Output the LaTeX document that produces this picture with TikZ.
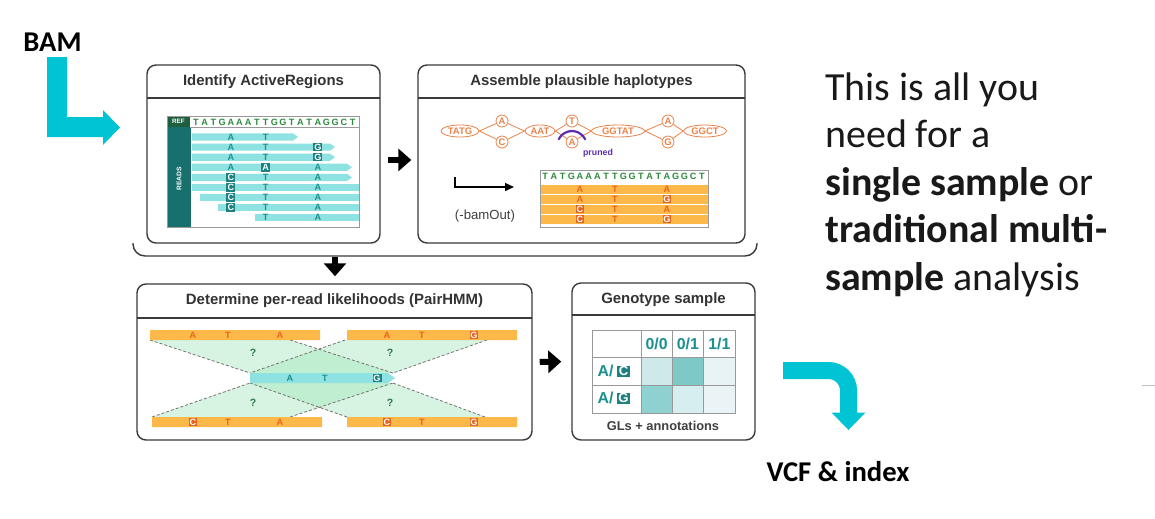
\documentclass[tikz,border=0pt]{standalone}
\usepackage{fontspec}
\setmainfont{Carlito}
\newfontfamily\arialf{Liberation Sans}
\usetikzlibrary{shapes.geometric,arrows.meta}
\newlength\px
\setlength\px{0.02cm}
\definecolor{cyanarr}{HTML}{00C4D4}
\definecolor{panelln}{HTML}{3A3A3A}
\definecolor{readcol}{HTML}{8FE2E2}
\definecolor{tealtxt}{HTML}{1B9090}
\definecolor{tealbox}{HTML}{1F8081}
\definecolor{tealbar}{HTML}{17706E}
\definecolor{refgrn}{HTML}{1F5E3E}
\definecolor{seqgrn}{HTML}{2E8B3E}
\definecolor{orbar}{HTML}{FDB84A}
\definecolor{ortxt}{HTML}{E8641E}
\definecolor{hapln}{HTML}{E8834A}
\definecolor{prune}{HTML}{5B2FB0}
\definecolor{mintc}{HTML}{A6E8BE}
\definecolor{qgrn}{HTML}{2D7A4C}
\definecolor{gta}{HTML}{CFE9EA}
\definecolor{gtb}{HTML}{7EC8C8}
\definecolor{gtc}{HTML}{E8F3F5}
\definecolor{gtd}{HTML}{8FD0D0}
\definecolor{gte}{HTML}{D6EEF0}
\definecolor{gtf}{HTML}{EAF4F6}
\begin{document}
\begin{tikzpicture}
	[x=0.02cm,y=-0.02cm,
	panel/.style={draw=panelln,line width=1.4\px,rounded corners=9\px,inner sep=0pt},
	ttl/.style={font=\arialf\bfseries\fontsize{8.5}{10}\selectfont,text=black!80},
	seq/.style={font=\arialf\bfseries\fontsize{5.2}{6}\selectfont,inner sep=0pt},
	rdl/.style={seq,text=tealtxt},
	rdm/.style={seq,fill=tealbox,text=white,minimum width=9\px,minimum height=8.5\px},
	hpl/.style={seq,text=ortxt},
	hpm/.style={seq,fill=ortxt,text=white,minimum width=8\px,minimum height=8\px},
	hnode/.style={ellipse,draw=hapln,line width=0.8\px,text=hapln,font=\arialf\bfseries\fontsize{5.4}{6}\selectfont,inner sep=0pt,minimum height=12\px},
	hcirc/.style={circle,draw=hapln,line width=0.8\px,text=hapln,font=\arialf\bfseries\fontsize{5.4}{6}\selectfont,inner sep=0pt,minimum size=12\px},
	hedge/.style={draw=hapln,line width=0.8\px},
	blk/.style={line width=6\px,-{Triangle[length=7.4pt,width=12.5pt]}},
	dsh/.style={draw=black!55,line width=0.8\px,dash pattern=on 3\px off 2\px},
	mint/.style={fill=mintc,fill opacity=0.45},
	gtx/.style={font=\arialf\bfseries\fontsize{9}{10}\selectfont,text=tealtxt,inner sep=0pt},
	gbx/.style={gtx,font=\arialf\bfseries\fontsize{7.5}{8}\selectfont,fill=tealbox,text=white,minimum width=13\px,minimum height=11\px},
	bigtxt/.style={font=\fontsize{22.7}{27}\selectfont,inner sep=0pt,text=black!90}]
\useasboundingbox (0,0) rectangle (1155,518);
\fill[white] (0,0) rectangle (1155,518);
\node[font=\bfseries\fontsize{16.3}{19}\selectfont,inner sep=0pt] (bam) at (52.5,42.5) {BAM};
\fill[cyanarr] (47,57) -- (67,57) -- (67,117) -- (103,117) -- (103,110) -- (120,127.5) -- (103,145) -- (103,137) -- (47,137) -- cycle;
\node[panel,minimum width=233\px,minimum height=178\px] (ident) at (263.5,154) {};
\node[panel,minimum width=327\px,minimum height=178\px] (assem) at (581.5,154) {};
\node[panel,minimum width=395\px,minimum height=156\px] (pairhmm) at (334.5,362) {};
\node[panel,minimum width=183\px,minimum height=157\px] (geno) at (663.5,361.5) {};
\draw[panelln,line width=1.4\px] (147,98) -- (380,98) (418,98) -- (745,98) (137,318) -- (532,318) (572,315) -- (755,315);
\node[ttl] (identt) at (263.5,82) {Identify ActiveRegions};
\node[ttl] (assemt) at (581.5,82) {Assemble plausible haplotypes};
\node[ttl] (pairt) at (334.5,301) {Determine per-read likelihoods (PairHMM)};
\node[ttl] (genot) at (663.5,299.5) {Genotype sample};
\draw[panelln,line width=1.4\px,rounded corners=12\px] (133,243) -- (133,256) -- (757,256) -- (757,243);
\draw[blk,shorten <=4pt,shorten >=3.4pt] ([yshift=-3.4pt]ident.east) -- ([yshift=-3.4pt]assem.west);
\coordinate (brc) at (335,257);
\draw[blk,shorten >=4pt] (brc) -- (brc |- pairhmm.north);
\draw[blk,shorten <=4pt,shorten >=5.7pt] (pairhmm.east) -- (geno.west);
\fill[refgrn] (167,116) rectangle (190,127);
\node[font=\arialf\bfseries\fontsize{3.6}{4}\selectfont,text=white,inner sep=0pt] (ref) at (178.5,121.5) {REF};
\fill[tealbar] (167,127) rectangle (191,227);
\node[font=\arialf\bfseries\fontsize{3.8}{4}\selectfont,text=white,inner sep=0pt,rotate=90] (reads) at (179,179) {READS};
\foreach \rw/\xa/\xb/\tp in {1/192/298/1,2/192/335/1,3/192/335/1,4/192/352/1,5/192/352/1,6/192/359/0,7/200/359/0,8/218/359/0,9/255/359/0}{
	\pgfmathsetmacro\yy{137+10.1*(\rw-1)}
	\ifnum\tp=1
		\fill[readcol] (\xa,\yy-3.6) -- (\xb-5,\yy-3.6) -- (\xb,\yy) -- (\xb-5,\yy+3.6) -- (\xa,\yy+3.6) -- cycle;
	\else
		\fill[readcol] (\xa,\yy-3.6) rectangle (\xb,\yy+3.6);
	\fi
}
\draw[black!40,line width=0.7\px] (167,116) rectangle (359,227) (190,127) -- (359,127);
\foreach \ltr [count=\i from 0] in {T,A,T,G,A,A,A,T,T,G,G,T,A,T,A,G,G,C,T}
	\node[seq,text=seqgrn] (rf\i) at ({196+8.7*\i},122) {\ltr};
\foreach \rw/\cl/\ltr/\sty [count=\i] in {1/4/A/rdl,1/8/T/rdl,2/4/A/rdl,2/8/T/rdl,2/14/G/rdm,3/4/A/rdl,3/8/T/rdl,3/14/G/rdm,4/4/A/rdl,4/8/A/rdm,4/14/A/rdl,5/4/C/rdm,5/8/T/rdl,5/14/A/rdl,6/4/C/rdm,6/8/T/rdl,6/14/A/rdl,7/4/C/rdm,7/8/T/rdl,7/14/A/rdl,8/4/C/rdm,8/8/T/rdl,8/14/A/rdl,9/8/T/rdl,9/14/A/rdl}
	\node[\sty] (rl\i) at ({196+8.7*\cl},{137+10.1*(\rw-1)}) {\ltr};
\node[hnode,minimum width=38\px] (tatg) at (460,131) {TATG};
\node[hcirc] (va) at (502,121) {A};
\node[hcirc] (vc) at (502,142) {C};
\node[hnode,minimum width=30\px] (aat) at (540,131) {AAT};
\node[hcirc] (vt) at (572,121) {T};
\node[hcirc] (vab) at (572,142) {A};
\node[hnode,minimum width=53\px] (ggtat) at (618,131) {GGTAT};
\node[hcirc] (vac) at (668,121) {A};
\node[hcirc] (vg) at (668,142) {G};
\node[hnode,minimum width=43\px] (ggct) at (705,131) {GGCT};
\foreach \pa/\pb in {tatg.east/va,tatg.east/vc,va/aat.west,vc/aat.west,aat.east/vt,aat.east/vab,vt/ggtat.west,vab/ggtat.west,ggtat.east/vac,ggtat.east/vg,vac/ggct.west,vg/ggct.west}
	\draw[hedge] (\pa) -- (\pb);
\draw[prune,line width=2.2\px] ([shift={(155:8.5pt)}]572,146) arc[start angle=155,end angle=25,radius=8.5pt];
\node[font=\arialf\bfseries\fontsize{5}{6}\selectfont,text=prune,inner sep=0pt] (prn) at (598,153) {pruned};
\coordinate (hook) at (455,177);
\coordinate (hookend) at (514,187);
\draw[line width=1.6\px,-{Triangle[length=5.1pt,width=4.5pt]}] (hook) |- (hookend);
\node[font=\arialf\fontsize{7.5}{9}\selectfont,text=black!75,inner sep=0pt] (bamout) at (485,216) {(-bamOut)};
\foreach \rw in {0,...,3}
	\fill[orbar] (540.5,{184.5+10*\rw}) rectangle (707.5,{193.5+10*\rw});
\draw[black!40,line width=0.7\px] (540,170) rectangle (708,227);
\foreach \ltr [count=\i from 0] in {T,A,T,G,A,A,A,T,T,G,G,T,A,T,A,G,G,C,T}
	\node[seq,text=seqgrn] (hf\i) at ({545.2+8.7*\i},176) {\ltr};
\foreach \rw/\cl/\ltr/\sty [count=\i] in {1/4/A/hpl,1/8/T/hpl,1/14/A/hpl,2/4/A/hpl,2/8/T/hpl,2/14/G/hpm,3/4/C/hpm,3/8/T/hpl,3/14/A/hpl,4/4/C/hpm,4/8/T/hpl,4/14/G/hpm}
	\node[\sty] (hl\i) at ({545.2+8.7*\cl},{189+10*(\rw-1)}) {\ltr};
\fill[mint] (150,340) -- (290,340) -- (393,373) -- (250,373) -- cycle;
\fill[mint] (345,340) -- (487,340) -- (393,373) -- (250,373) -- cycle;
\fill[mint] (152,417) -- (290,417) -- (393,383) -- (250,383) -- cycle;
\fill[mint] (347,417) -- (485,417) -- (393,383) -- (250,383) -- cycle;
\draw[dsh] (150,340) -- (250,373) (290,340) -- (393,373) (345,340) -- (250,373) (487,340) -- (393,373);
\draw[dsh] (152,417) -- (250,383) (290,417) -- (393,383) (347,417) -- (250,383) (485,417) -- (393,383);
\fill[orbar] (150,330) rectangle (320,340) (347,330) rectangle (517,340) (152,417) rectangle (322,427) (347,417) rectangle (517,427);
\fill[readcol] (250,373) -- (388,373) -- (395,378) -- (388,383) -- (250,383) -- cycle;
\foreach \xo/\yo/\cl/\ltr/\sty [count=\i] in {158.2/335/4/A/hpl,158.2/335/8/T/hpl,158.2/335/14/A/hpl,352.2/335/4/A/hpl,352.2/335/8/T/hpl,352.2/335/14/G/hpm,158.2/422/4/C/hpm,158.2/422/8/T/hpl,158.2/422/14/A/hpl,352.2/422/4/C/hpm,352.2/422/8/T/hpl,352.2/422/14/G/hpm,255.2/378/4/A/rdl,255.2/378/8/T/rdl,255.2/378/14/G/rdm}
	\node[\sty] (pl\i) at ({\xo+8.7*\cl},\yo) {\ltr};
\foreach \qx/\qy [count=\i] in {253/353,390/353,253/403,390/403}
	\node[font=\arialf\bfseries\fontsize{6}{7}\selectfont,text=qgrn,inner sep=0pt] (q\i) at (\qx,\qy) {?};
\foreach \cl/\rw/\col in {1/1/gta,2/1/gtb,3/1/gtc,1/2/gtd,2/2/gte,3/2/gtf}
	\fill[\col] ({641+31.3*(\cl-1)},{357+28*(\rw-1)}) rectangle ++(31.3,28);
\draw[black!40,line width=1\px] (592,330) rectangle (735,413) (641,330) -- (641,413) (672.3,330) -- (672.3,413) (703.6,330) -- (703.6,413) (592,357) -- (735,357) (592,385) -- (735,385);
\foreach \gt/\gx [count=\i] in {{0/0}/656.6,{0/1}/687.9,{1/1}/719.3}
	\node[gtx] (gh\i) at (\gx,344) {\gt};
\node[gtx] (ga1) at (605.5,371) {A/};
\node[gbx] (gb1) at (623.5,371) {C};
\node[gtx] (ga2) at (605.5,398) {A/};
\node[gbx] (gb2) at (623.5,398) {G};
\node[font=\arialf\bfseries\fontsize{7.3}{9}\selectfont,text=black!75,inner sep=0pt] (gls) at (663,426) {GLs + annotations};
\draw[cyanarr,line width=17\px,rounded corners=20\px] (783,370.5) -- (848.5,370.5) -- (848.5,413);
\fill[cyanarr] (831.5,412.5) -- (865.5,412.5) -- (848.5,430) -- cycle;
\node[font=\bfseries\fontsize{16.3}{19}\selectfont,inner sep=0pt] (vcf) at (838,472) {VCF \& index};
\foreach \txt [count=\i] in {{This is all you},{need for a},{\textbf{single sample} or},{\textbf{traditional multi-}},{\textbf{sample} analysis}}
	\node[bigtxt,anchor=base west] (say\i) at (825,{100+47.5*(\i-1)}) {\txt};
\draw[black!25,line width=1\px] (1142,385) -- (1155,385);
\end{tikzpicture}
\end{document}
